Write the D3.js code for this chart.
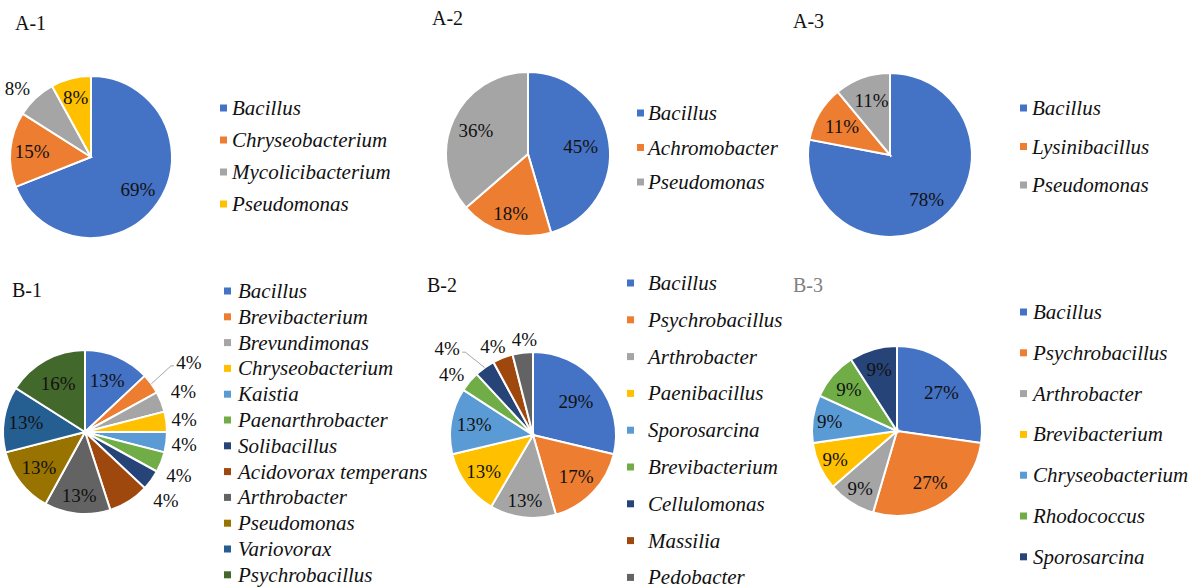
<!DOCTYPE html>
<html>
<head>
<meta charset="utf-8">
<script src="https://cdn.jsdelivr.net/npm/d3@7"></script>
<style>
  body { margin: 0; background: #fff; }
</style>
</head>
<body>
<div id="chart"></div>
<script>
const width = 1198;
const height = 588;
const font = "'Liberation Serif', Tinos, 'Times New Roman', 'DejaVu Serif', serif";

// excel office palette, used in order by every pie
const palette = ["#4472C4", "#ED7D31", "#A5A5A5", "#FFC000", "#5B9BD5", "#70AD47",
  "#264478", "#9E480E", "#636363", "#997300", "#255E91", "#43682B"];

const a1Names = ["Bacillus", "Chryseobacterium", "Mycolicibacterium", "Pseudomonas"];
const a1Values = [69, 15, 8, 8];

const a2Names = ["Bacillus", "Achromobacter", "Pseudomonas"];
const a2Values = [45, 18, 36];

const a3Names = ["Bacillus", "Lysinibacillus", "Pseudomonas"];
const a3Values = [78, 11, 11];

const b1Names = ["Bacillus", "Brevibacterium", "Brevundimonas", "Chryseobacterium", "Kaistia",
  "Paenarthrobacter", "Solibacillus", "Acidovorax temperans", "Arthrobacter", "Pseudomonas",
  "Variovorax", "Psychrobacillus"];
const b1Values = [13, 4, 4, 4, 4, 4, 4, 8, 13, 13, 13, 16];
const b1Shown = [true, true, true, true, true, true, true, false, true, true, true, true];

const b2Names = ["Bacillus", "Psychrobacillus", "Arthrobacter", "Paenibacillus", "Sporosarcina",
  "Brevibacterium", "Cellulomonas", "Massilia", "Pedobacter"];
const b2Values = [29, 17, 13, 13, 13, 4, 4, 4, 4];

const b3Names = ["Bacillus", "Psychrobacillus", "Arthrobacter", "Brevibacterium",
  "Chryseobacterium", "Rhodococcus", "Sporosarcina"];
const b3Values = [27, 27, 9, 9, 9, 9, 9];

// label placement: [radius factor, angle nudge in degrees, leader line]
const panels = [
  { title: "A-1", names: a1Names, values: a1Values, cx: 91, cy: 157, r: 81,
    tx: 15, ty: 30, sqX: 220, textX: 232, legY: 108, legStep: 32,
    place: [[0.70], [0.73], [1.24, -4], [0.76]] },
  { title: "A-2", names: a2Names, values: a2Values, cx: 528, cy: 154, r: 82,
    tx: 432, ty: 25, sqX: 637, textX: 648, legY: 113, legStep: 34.5,
    place: [[0.65], [0.75], [0.70]] },
  { title: "A-3", names: a3Names, values: a3Values, cx: 890, cy: 155, r: 82,
    tx: 793, ty: 28, sqX: 1020, textX: 1032, legY: 108, legStep: 38.5,
    place: [[0.70], [0.68], [0.70, 1]] },
  { title: "B-1", names: b1Names, values: b1Values, shown: b1Shown, cx: 85, cy: 432, r: 82,
    tx: 12, ty: 297, sqX: 224, textX: 238, legY: 291, legStep: 25.8,
    place: [[0.68], [1.53, 2, true], [1.30, -1], [1.22], [1.22], [1.26, 3], [1.29, 4],
      [0.7], [0.77], [0.71], [0.73], [0.68]] },
  { title: "B-2", names: b2Names, values: b2Values, cx: 533, cy: 435, r: 83,
    tx: 427, ty: 292, sqX: 627, textX: 648, legY: 283, legStep: 36.8,
    place: [[0.66], [0.72], [0.79], [0.74], [0.72], [1.22, -3.5], [1.47, -9, true],
      [1.17, -3], [1.16, 2]] },
  { title: "B-3", titleColor: "#7f7f7f", names: b3Names, values: b3Values, cx: 897, cy: 431, r: 85,
    tx: 793, ty: 292, sqX: 1020, textX: 1033, legY: 312, legStep: 40.8,
    place: [[0.69], [0.72], [0.80], [0.80], [0.80], [0.75], [0.75]] }
];

const svg = d3.select("#chart")
  .append("svg")
  .attr("width", width)
  .attr("height", height)
  .style("display", "block");

const pie = d3.pie().sort(null).value(d => d.value);

panels.forEach(p => {
  const data = p.names.map((name, i) => ({ name, value: p.values[i], i }));
  const arcs = pie(data);
  const arc = d3.arc().innerRadius(0).outerRadius(p.r);
  const color = d3.scaleOrdinal().domain(p.names).range(palette);

  svg.append("text")
    .attr("x", p.tx)
    .attr("y", p.ty)
    .attr("font-family", font)
    .attr("font-size", 20)
    .attr("fill", p.titleColor || "#111")
    .text(p.title);

  const g = svg.append("g")
    .attr("transform", `translate(${p.cx},${p.cy})`);

  g.selectAll("path")
    .data(arcs)
    .enter()
    .append("path")
    .attr("d", arc)
    .attr("fill", d => color(d.data.name))
    .attr("stroke", "#fff")
    .attr("stroke-width", 2);

  arcs.forEach((d, i) => {
    if (p.shown && !p.shown[i]) return;
    const [k, nudge = 0, leader = false] = p.place[i];
    const mid = (d.startAngle + d.endAngle) / 2;
    const a = mid + nudge * Math.PI / 180;
    const lx = Math.sin(a) * k * p.r;
    const ly = -Math.cos(a) * k * p.r;

    if (leader) {
      const side = Math.sin(a) >= 0 ? 1 : -1;
      const sx = Math.sin(mid) * p.r;
      const sy = -Math.cos(mid) * p.r;
      g.append("polyline")
        .attr("points", [[sx, sy], [lx - side * 18, ly + 4], [lx - side * 15, ly + 4]].join(" "))
        .attr("fill", "none")
        .attr("stroke", "#a6a6a6")
        .attr("stroke-width", 1);
    }

    g.append("text")
      .attr("x", lx)
      .attr("y", ly)
      .attr("dy", "0.35em")
      .attr("text-anchor", "middle")
      .attr("font-family", font)
      .attr("font-size", 19)
      .attr("fill", "#111")
      .text(Math.round(d.value) + "%");
  });

  const legend = svg.append("g");
  const row = legend.selectAll(".row")
    .data(p.names)
    .enter()
    .append("g")
    .attr("transform", (d, i) => `translate(0,${p.legY + i * p.legStep})`);

  row.append("rect")
    .attr("x", p.sqX)
    .attr("y", -3.5)
    .attr("width", 7)
    .attr("height", 7)
    .attr("fill", d => color(d));

  row.append("text")
    .attr("x", p.textX)
    .attr("y", 7)
    .attr("font-family", font)
    .attr("font-size", 21)
    .attr("font-style", "italic")
    .attr("fill", "#111")
    .text(d => d);
});
</script>
</body>
</html>
